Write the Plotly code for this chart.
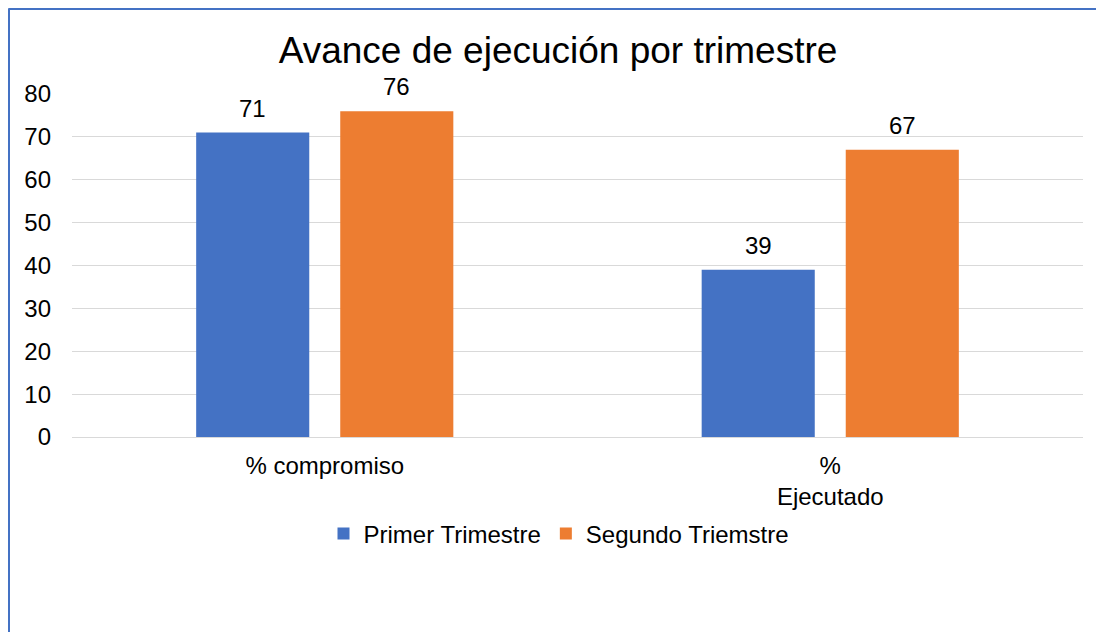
import plotly.graph_objects as go

categories = ["% compromiso", "%<br>Ejecutado"]
series_names = ["Primer Trimestre", "Segundo Triemstre"]
primer = [71, 39]
segundo = [76, 67]
colors = ["#4472C4", "#ED7D31"]
y_ticks = [0, 10, 20, 30, 40, 50, 60, 70, 80]

# the page puts the figure 8px in from the top-left corner
W, H = 1096, 624
L, R, T, B = 64, 21, 86, 195
pw, ph = W - L - R, H - T - B

FONT = "Liberation Sans, Arial, sans-serif"
FS = 24

fig = go.Figure()
for name, vals, col, shift in zip(series_names, [primer, segundo], colors, [-72, 72]):
    fig.add_trace(go.Bar(name=name, x=categories, y=vals, marker=dict(color=col, line=dict(width=0))))
    for c, v in zip(categories, vals):
        fig.add_annotation(x=c, y=v, xref="x", yref="y", text=str(v), showarrow=False,
                           xshift=shift, yanchor="bottom", yshift=9,
                           font=dict(family=FONT, size=FS, color="#000000"))

def px2paper_x(px):
    return (px - L) / pw

def px2paper_y(py):
    return (H - B - py) / ph

fig.add_shape(type="line", xref="paper", yref="paper",
              x0=px2paper_x(0.5), x1=px2paper_x(0.5), y0=px2paper_y(0.5), y1=px2paper_y(640),
              line=dict(color="#4472C4", width=3))
fig.add_shape(type="line", xref="paper", yref="paper",
              x0=px2paper_x(0.5), x1=px2paper_x(1110), y0=px2paper_y(0.5), y1=px2paper_y(0.5),
              line=dict(color="#4472C4", width=3))

fig.update_layout(
    width=W, height=H,
    margin=dict(l=L, r=R, t=T, b=B),
    paper_bgcolor="white", plot_bgcolor="white",
    barmode="group", bargap=0.43, bargroupgap=0.215,
    title=dict(text="Avance de ejecución por trimestre", x=550 / W, xref="container",
               y=1 - 42 / H, yref="container", xanchor="center", yanchor="middle",
               font=dict(family=FONT, size=37, color="#000000")),
    font=dict(family=FONT, size=FS, color="#000000"),
    legend=dict(orientation="h", x=px2paper_x(551), xanchor="center", y=px2paper_y(526), yanchor="middle",
                font=dict(family=FONT, size=FS, color="#000000"), itemwidth=30),
    xaxis=dict(showgrid=False, showline=False, ticks="", tickfont=dict(size=FS), ticklabelstandoff=12),
    yaxis=dict(range=[0, 80], tickvals=y_ticks, showgrid=True, gridcolor="#D9D9D9", gridwidth=1,
               zeroline=True, zerolinecolor="#D9D9D9", zerolinewidth=1, ticks="",
               tickfont=dict(size=FS), ticklabelstandoff=20),
)

fig.write_html("out.html")
